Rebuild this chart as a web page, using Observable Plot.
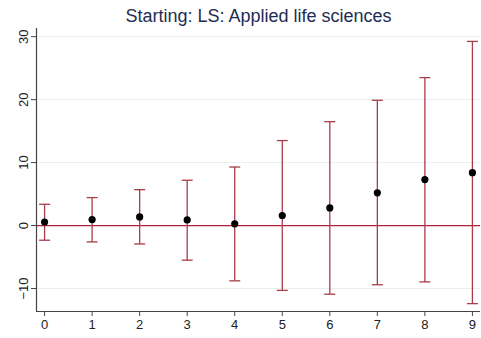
<!DOCTYPE html>
<html><head><meta charset="utf-8">
<script src="https://cdn.jsdelivr.net/npm/d3@7"></script>
<script src="https://cdn.jsdelivr.net/npm/@observablehq/plot@0.6"></script>
<style>
body{margin:0;background:#fff;font-family:"Liberation Sans",Arial,Helvetica,sans-serif;}
#title{width:445px;margin-left:36px;height:27px;text-align:center;font-size:18px;color:#1e2c52;line-height:32px;white-space:nowrap;}
</style></head>
<body>
<div id="title">Starting: LS: Applied life sciences</div>
<div id="chart"></div>
<script>
const steps = [0,1,2,3,4,5,6,7,8,9];
const estimate = [0.55,0.95,1.37,0.89,0.27,1.6,2.8,5.2,7.3,8.4];
const upper = [3.38,4.44,5.7,7.2,9.3,13.5,16.5,19.9,23.5,29.25];
const lower = [-2.33,-2.6,-2.92,-5.5,-8.78,-10.3,-10.9,-9.4,-8.95,-12.4];
const yTicks = [-10,0,10,20,30];
const xDomain = [-0.17, 9.17];
const yDomain = [-13.65, 31.3];

const data = steps.map((s,i)=>({x:s, est:estimate[i], hi:upper[i], lo:lower[i]}));
const ends = data.flatMap(d=>[{x:d.x,y:d.hi},{x:d.x,y:d.lo}]);
const cap = {draw(ctx){ctx.moveTo(-5.5,0);ctx.lineTo(5.5,0);}};
const barColor = "#a63e4b";

const plot = Plot.plot({
  width:481, height:311,
  marginLeft:36, marginRight:1, marginTop:1, marginBottom:27,
  style:{fontFamily:'"Liberation Sans",Arial,Helvetica,sans-serif', fontSize:"13px", color:"#222", background:"#fff"},
  x:{domain:xDomain},
  y:{domain:yDomain},
  marks:[
    Plot.gridY(yTicks,{stroke:"#e6f0f1", strokeOpacity:1, strokeWidth:1}),
    Plot.ruleY([0],{stroke:"#b01f3c", strokeWidth:1.3}),
    Plot.link(data,{x1:"x",x2:"x",y1:"lo",y2:"hi",stroke:barColor,strokeWidth:1.3}),
    Plot.dot(ends,{x:"x",y:"y",symbol:cap,stroke:barColor,strokeWidth:1.3,r:4}),
    Plot.dot(data,{x:"x",y:"est",fill:"#000",r:3.6}),
    Plot.ruleX([xDomain[0]],{stroke:"#444",strokeWidth:1.2}),
    Plot.ruleY([yDomain[0]],{stroke:"#444",strokeWidth:1.2}),
    Plot.axisY(yTicks,{tickSize:5,tickRotate:-90,label:null,tickPadding:4,fontSize:13,stroke:"#444"}),
    Plot.axisX(steps,{tickSize:5,label:null,tickPadding:3,fontSize:13,stroke:"#444"})
  ]
});
document.getElementById("chart").appendChild(plot);
</script>
</body></html>
